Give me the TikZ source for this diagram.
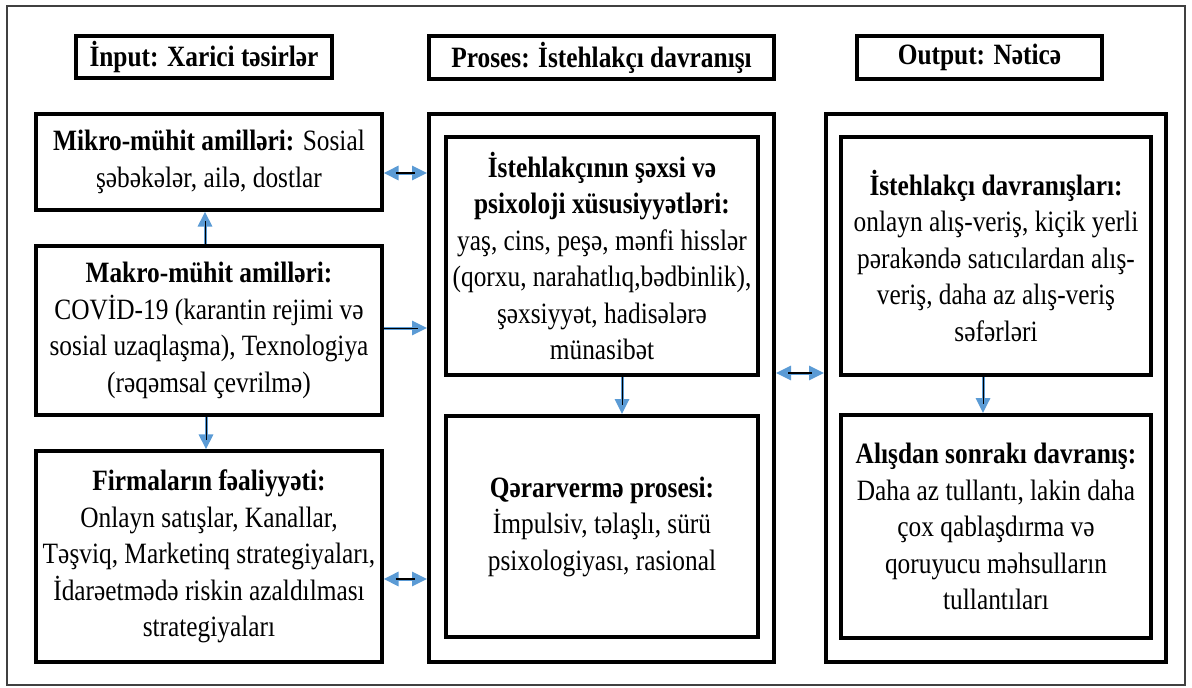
\documentclass[tikz,border=0pt]{standalone}
\usepackage{fontspec}
\setmainfont{Liberation Serif}[FakeStretch=0.86]
\usetikzlibrary{arrows.meta}
\definecolor{arrowblue}{HTML}{5B9BD5}
\begin{document}
\begin{tikzpicture}[x=1pt,y=-1pt,
  every node/.style={font=\fontsize{29.5}{36.5}\selectfont, align=center, inner sep=0pt},
  box/.style={draw=black, line width=3.2pt, rectangle},
  tbox/.style={box, execute at begin node={\rule{0pt}{31pt}}},
  header/.style={box, line width=3.5pt},
  outerbox/.style={box, line width=4pt},
  tip/.tip={Triangle[length=15pt,width=14pt]},
  conn/.style={draw=arrowblue, line width=3pt, -tip,
     postaction={draw=black, line width=1pt, arrows=-, shorten >=9pt}},
  dconn/.style={draw=arrowblue, line width=3pt, tip-tip,
     postaction={draw=black, line width=1.5pt, arrows=-, shorten >=12pt, shorten <=12pt}}
]
\useasboundingbox (0,0) rectangle (1192,688);
\draw[line width=1.3pt, draw=black!75] (7,6) rectangle (1185,685);

% headers
\node[header, minimum width=256pt, minimum height=42pt] (hIn) at (204,57) {\textbf{İnput: Xarici təsirlər}};
\node[header, minimum width=345pt, minimum height=43pt] (hPr) at (601.5,57.5) {\textbf{Proses: İstehlakçı davranışı}};
\node[header, minimum width=245pt, minimum height=43pt] (hOut) at (979.5,57.5) {\textbf{Output: Nəticə}};

% left column
\node[tbox, minimum width=346pt, minimum height=96pt] (mikro) at (209,162)
 {\textbf{Mikro-mühit amilləri:} Sosial\\ şəbəkələr, ailə, dostlar};
\node[tbox, minimum width=346pt, minimum height=169pt] (makro) at (209,330.5)
 {\textbf{Makro-mühit amilləri:}\\ COVİD-19 (karantin rejimi və\\ sosial uzaqlaşma), Texnologiya\\ (rəqəmsal çevrilmə)};
\node[tbox, minimum width=346pt, minimum height=211pt] (firm) at (209,556.5)
 {\textbf{Firmaların fəaliyyəti:}\\ Onlayn satışlar, Kanallar,\\ Təşviq, Marketinq strategiyaları,\\ İdarəetmədə riskin azaldılması\\ strategiyaları};

% middle column
\node[outerbox, minimum width=345pt, minimum height=548pt] (midOuter) at (601.5,388) {};
\node[tbox, line width=3.8pt, minimum width=312pt, minimum height=238pt] (midA) at (602,256)
 {\textbf{İstehlakçının şəxsi və}\\ \textbf{psixoloji xüsusiyyətləri:}\\ yaş, cins, peşə, mənfi hisslər\\ (qorxu, narahatlıq,bədbinlik),\\ şəxsiyyət, hadisələrə\\ münasibət};
\node[tbox, line width=3.8pt, minimum width=312pt, minimum height=221pt] (midB) at (602,526.5)
 {\textbf{Qərarvermə prosesi:}\\ İmpulsiv, təlaşlı, sürü\\ psixologiyası, rasional};

% right column
\node[outerbox, minimum width=340pt, minimum height=548pt] (rOuter) at (996,388) {};
\node[tbox, line width=3.8pt, minimum width=310pt, minimum height=238pt] (rA) at (996,256)
 {\textbf{İstehlakçı davranışları:}\\ onlayn alış-veriş, kiçik yerli\\ pərakəndə satıcılardan alış-\\ veriş, daha az alış-veriş\\ səfərləri};
\node[tbox, line width=3.8pt, minimum width=310pt, minimum height=223pt] (rB) at (996,526.5)
 {\textbf{Alışdan sonrakı davranış:}\\ Daha az tullantı, lakin daha\\ çox qablaşdırma və\\ qoruyucu məhsulların\\ tullantıları};

% connectors
\coordinate (c1) at ([yshift=-11pt]mikro.east);
\draw[dconn] (c1) -- (c1 -| midOuter.west);
\coordinate (c2) at ([yshift=2.5pt]makro.east);
\draw[conn] (c2) -- (c2 -| midOuter.west);
\coordinate (c3) at ([yshift=-22.5pt]firm.east);
\draw[dconn] (c3) -- (c3 -| midOuter.west);
\draw[conn] ([xshift=-4pt]makro.north) -- ([xshift=-4pt]mikro.south);
\draw[conn] ([xshift=-3pt]makro.south) -- ([xshift=-3pt]firm.north);
\draw[conn] ([xshift=20pt]midA.south) -- ([xshift=20pt]midB.north);
\coordinate (c4) at ([yshift=15pt]midOuter.east);
\draw[dconn] (c4) -- (c4 -| rOuter.west);
\draw[conn] ([xshift=-13pt]rA.south) -- ([xshift=-13pt]rB.north);
\end{tikzpicture}
\end{document}
